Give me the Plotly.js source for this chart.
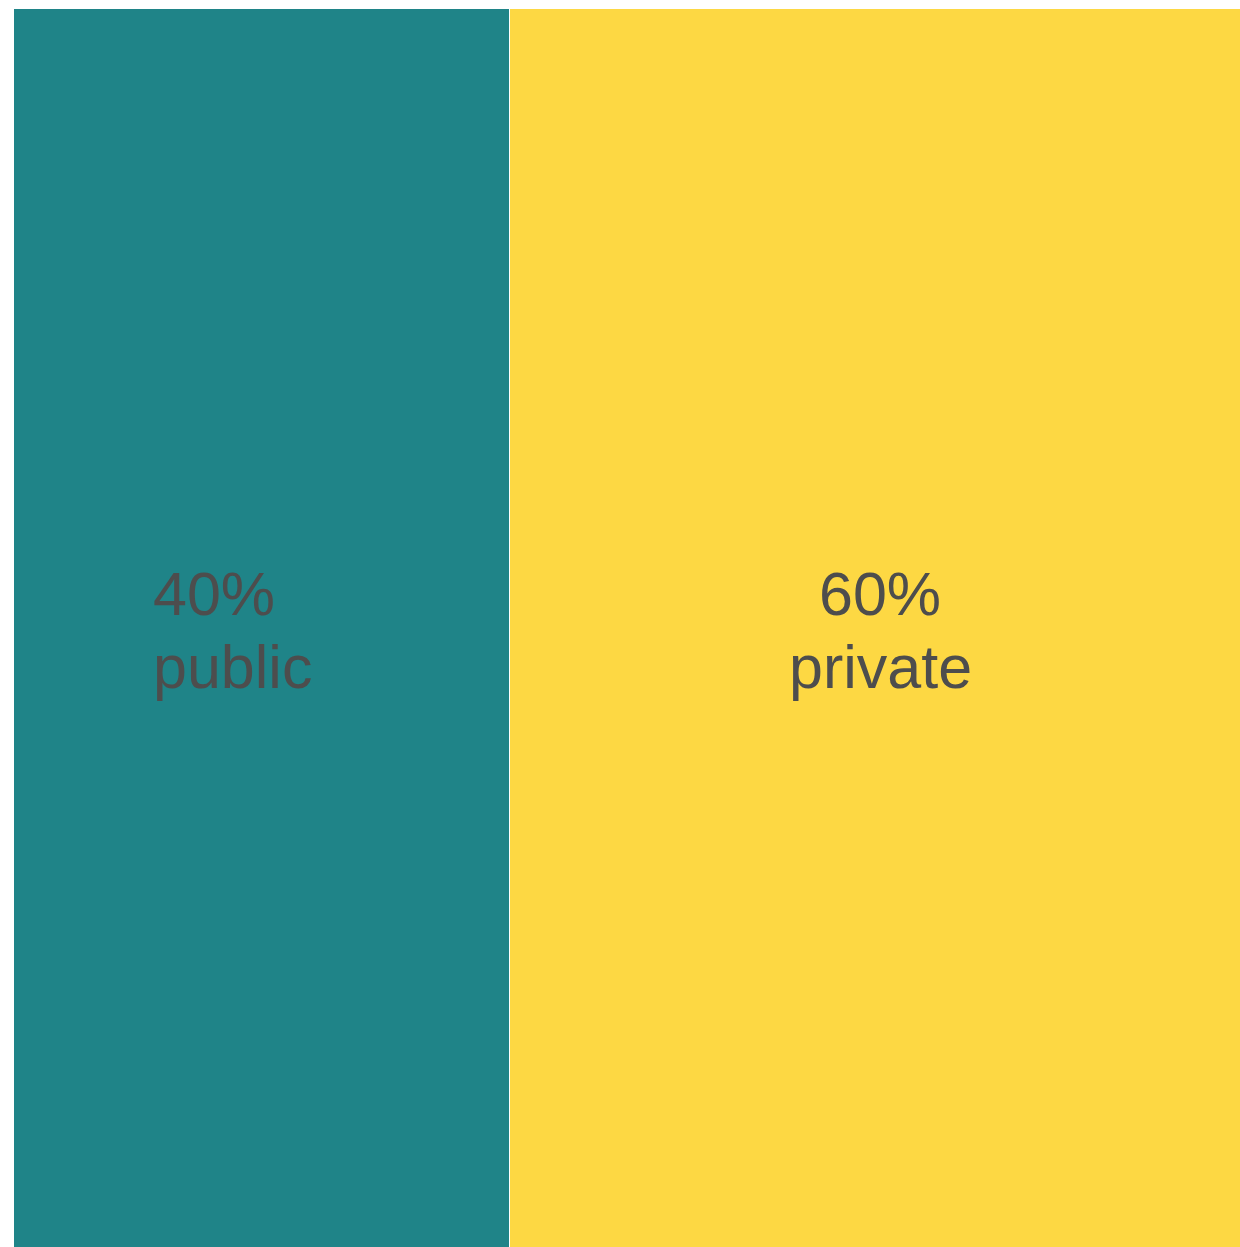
<!DOCTYPE html>
<html>
<head>
<meta charset="utf-8">
<script src="https://cdn.plot.ly/plotly-3.0.1.min.js"></script>
<style>html,body{margin:0;padding:0;background:#fff;}#chart{width:1240px;height:1247px;}</style>
</head>
<body>
<div id="chart"></div>
<script>
// Data
const categories = ['public', 'private'];
const shares = [40.5, 59.5];
const pctLabels = ['40%', '60%'];

// Styles
const fillColors = ['#1F8488', '#FDD843'];
const textColor = '#4D4D4D';
const fontFamily = 'Liberation Sans, Arial, sans-serif';
const fontSize = 61;

const traces = categories.map((c, i) => ({
  type: 'bar',
  orientation: 'h',
  name: c,
  y: ['all'],
  x: [shares[i]],
  marker: { color: fillColors[i], line: { color: '#ffffff', width: 1 } },
  hoverinfo: 'skip',
  showlegend: false
}));

// label positions (data x): left label left-aligned, right label centred
let cum = 0;
const starts = shares.map(s => { const v = cum; cum += s; return v; });
const labelX = [starts[0] + 11.25, starts[1] + shares[1] * 0.5 + 0.45];
const labelAnchor = ['left', 'center'];

const annotations = [];
categories.forEach((c, i) => {
  annotations.push({
    x: labelX[i], y: 0.527, xref: 'x', yref: 'paper',
    text: pctLabels[i], showarrow: false,
    xanchor: labelAnchor[i], yanchor: 'middle',
    font: { family: fontFamily, size: fontSize, color: textColor }
  });
  annotations.push({
    x: labelX[i], y: 0.468, xref: 'x', yref: 'paper',
    text: c, showarrow: false,
    xanchor: labelAnchor[i], yanchor: 'middle',
    font: { family: fontFamily, size: fontSize, color: textColor }
  });
});

const layout = {
  width: 1240, height: 1247,
  margin: { l: 13, r: 0, t: 8, b: 0, pad: 0 },
  paper_bgcolor: '#ffffff', plot_bgcolor: '#ffffff',
  barmode: 'stack', bargap: 0,
  xaxis: { range: [0, 100], visible: false, fixedrange: true },
  yaxis: { range: [-0.5, 0.5], visible: false, fixedrange: true },
  annotations: annotations,
  hovermode: false
};

Plotly.newPlot('chart', traces, layout, { displayModeBar: false, staticPlot: true });
</script>
</body>
</html>
